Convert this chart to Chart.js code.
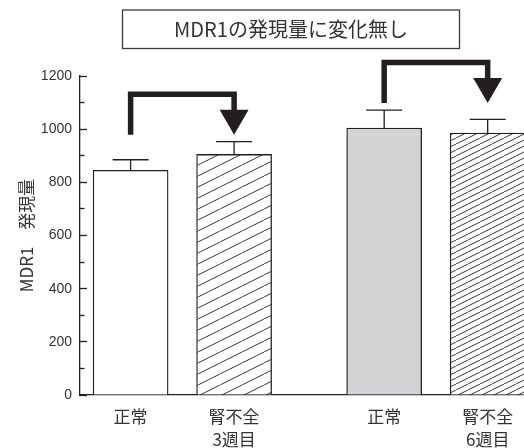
<!DOCTYPE html>
<html>
<head>
<meta charset="utf-8">
<script src="https://cdn.jsdelivr.net/npm/chart.js@4/dist/chart.umd.min.js"></script>
<style>
  html, body { margin: 0; padding: 0; background: #fff; }
  canvas { display: block; }
</style>
</head>
<body>
<canvas id="chart" width="524" height="448"></canvas>
<script>
// MDR1 expression: normal vs. renal failure at 3 and 6 weeks
const categories = ['正常', ['腎不全', '3週目'], '正常', ['腎不全', '6週目']];
const groupIndex = [0, 0, 1, 1];
const expression = [845, 905, 1004, 985];
const sem = [40, 48, 68, 52];
const comparisons = [[0, 1], [2, 3]];
const headline = 'MDR1の発現量に変化無し';
const yTitle = 'MDR1　発現量';

const FONT = '"Noto Sans CJK JP", "Liberation Sans", sans-serif';
const INK = '#231f20';
const TEXT = '#333333';
const GROUP_GAP = 0.45;

// bar slot positions on the x axis: one unit per bar, extra space between groups
const slots = expression.map((_, i) => i + groupIndex[i] * GROUP_GAP);

const canvas = document.getElementById('chart');
const ctx0 = canvas.getContext('2d');

function hatch(w, h) {
  const tile = document.createElement('canvas');
  tile.width = w; tile.height = h;
  const g = tile.getContext('2d');
  g.fillStyle = '#ffffff';
  g.fillRect(0, 0, w, h);
  g.strokeStyle = INK;
  g.lineWidth = 0.9;
  for (const dx of [-w, 0, w]) {
    g.beginPath();
    g.moveTo(dx, h);
    g.lineTo(dx + w, 0);
    g.stroke();
  }
  return ctx0.createPattern(tile, 'repeat');
}

const fills = ['#ffffff', hatch(22, 11), '#d1d3d4', hatch(12, 6)];

const errorBars = {
  id: 'errorBars',
  afterDatasetsDraw(chart) {
    const meta = chart.getDatasetMeta(0);
    const y = chart.scales.y;
    const ctx = chart.ctx;
    ctx.save();
    ctx.strokeStyle = INK;
    ctx.lineWidth = 1.3;
    meta.data.forEach((bar, i) => {
      const top = y.getPixelForValue(expression[i] + sem[i]);
      ctx.beginPath();
      ctx.moveTo(bar.x, bar.y);
      ctx.lineTo(bar.x, top);
      ctx.moveTo(bar.x - 18, top);
      ctx.lineTo(bar.x + 18, top);
      ctx.stroke();
    });
    ctx.restore();
  }
};

const arrows = {
  id: 'arrows',
  afterDraw(chart) {
    const meta = chart.getDatasetMeta(0);
    const y = chart.scales.y;
    const ctx = chart.ctx;
    ctx.save();
    ctx.strokeStyle = INK;
    ctx.fillStyle = INK;
    ctx.lineWidth = 5.5;
    ctx.lineJoin = 'miter';
    ctx.lineCap = 'butt';
    comparisons.forEach(([a, b]) => {
      const xa = meta.data[a].x;
      const xb = meta.data[b].x;
      const topErr = Math.min(
        y.getPixelForValue(expression[a] + sem[a]),
        y.getPixelForValue(expression[b] + sem[b])
      );
      const base = topErr - 7;
      const bend = base - 40.5;
      const headLen = 25;
      const headHalf = 14.5;
      ctx.beginPath();
      ctx.moveTo(xa, base);
      ctx.lineTo(xa, bend);
      ctx.lineTo(xb, bend);
      ctx.lineTo(xb, base - headLen + 1);
      ctx.stroke();
      ctx.beginPath();
      ctx.moveTo(xb - headHalf, base - headLen);
      ctx.lineTo(xb + headHalf, base - headLen);
      ctx.lineTo(xb, base);
      ctx.closePath();
      ctx.fill();
    });
    ctx.restore();
  }
};

const headerBox = {
  id: 'headerBox',
  afterDraw(chart) {
    const ctx = chart.ctx;
    const left = 122.5, top = 10, w = 337, h = 38.5;
    ctx.save();
    ctx.strokeStyle = '#3a3a3a';
    ctx.lineWidth = 1.3;
    ctx.strokeRect(left, top, w, h);
    ctx.fillStyle = TEXT;
    ctx.font = '20px ' + FONT;
    ctx.textAlign = 'center';
    ctx.textBaseline = 'middle';
    ctx.fillText(headline, left + w / 2, top + h / 2 + 0.5);
    ctx.restore();
  }
};

new Chart(canvas, {
  type: 'bar',
  data: {
    datasets: [{
      data: expression.map((v, i) => ({ x: slots[i], y: v })),
      backgroundColor: fills,
      borderColor: INK,
      borderWidth: 1.3,
      barThickness: 75
    }]
  },
  options: {
    responsive: false,
    animation: false,
    devicePixelRatio: 1,
    layout: { padding: { top: 76, left: 0, right: 0, bottom: 0 } },
    plugins: {
      legend: { display: false },
      title: { display: false },
      tooltip: { enabled: false }
    },
    scales: {
      x: {
        type: 'linear',
        offset: false,
        min: -0.489,
        max: 3.801,
        afterBuildTicks: (s) => { s.ticks = slots.map(v => ({ value: v })); },
        afterFit: (s) => { s.height = 53; },
        ticks: {
          autoSkip: false,
          maxRotation: 0,
          padding: 10.5,
          color: TEXT,
          font: { family: FONT, size: 17, lineHeight: '23px' },
          callback: (v, i) => categories[i]
        },
        grid: { display: false, offset: false, drawTicks: false, drawOnChartArea: false },
        border: { display: true, color: INK, width: 1.3 }
      },
      y: {
        min: 0,
        max: 1200,
        afterFit: (s) => { s.width = 80; },
        ticks: {
          stepSize: 100,
          autoSkip: false,
          padding: 15,
          color: TEXT,
          font: { family: '"Liberation Sans", sans-serif', size: 14 },
          callback: (v) => (v % 200 === 0 ? String(v) : '')
        },
        grid: {
          drawOnChartArea: false,
          tickLength: -7,
          tickColor: INK,
          tickWidth: 1.3,
          tickBorderDash: (c) => (c.tick && c.tick.value % 200 ? [4.5, 2.5] : []),
          tickBorderDashOffset: (c) => (c.tick && c.tick.value % 200 ? 4.5 : 0)
        },
        border: { display: true, color: INK, width: 1.3 },
        title: {
          display: true,
          text: yTitle,
          color: TEXT,
          font: { family: FONT, size: 17 },
          padding: { top: 16, bottom: 0 }
        }
      }
    }
  },
  plugins: [errorBars, arrows, headerBox]
});
</script>
</body>
</html>
